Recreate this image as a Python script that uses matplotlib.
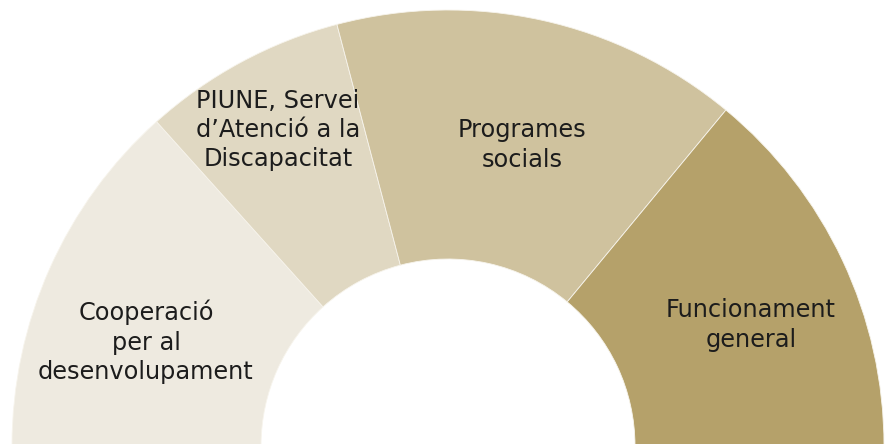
import matplotlib
matplotlib.use("Agg")
import matplotlib.pyplot as plt

# Data (share of budget)
categories = ["Cooperació\nper al\ndesenvolupament",
              "PIUNE, Servei\nd’Atenció a la\nDiscapacitat",
              "Programes\nsocials",
              "Funcionament\ngeneral"]
values = [26.7, 15.1, 30.2, 28.0]
colors = ["#EEEAE0", "#E0D8C2", "#CFC29E", "#B5A16A"]

# Layout
W, H = 887, 444
cx, cy = 448, -2
R_out, R_in = 436, 187
label_pos = [(146, 102), (278, 314), (522, 299), (751, 119)]

plt.rcParams['font.family'] = ['DejaVu Sans']
fig = plt.figure(figsize=(W / 100, H / 100), dpi=100)
ax = fig.add_axes([0, 0, 1, 1])

total = sum(values)
ax.pie(values + [total], colors=colors + ["none"], startangle=180,
       counterclock=False, radius=R_out, center=(cx, cy),
       wedgeprops=dict(width=R_out - R_in, edgecolor="#F7F4EC", linewidth=0.6),
       frame=False)
ax.patches[-1].set_edgecolor("none")

for lab, (x, y) in zip(categories, label_pos):
    ax.text(x, y, lab, ha="center", va="center", fontsize=17.3,
            color="#1c1c1c", linespacing=1.28)

ax.set_xlim(0, W)
ax.set_ylim(0, H)
ax.set_aspect("auto")
ax.axis("off")
fig.savefig("out.png", dpi=100, facecolor="white")
